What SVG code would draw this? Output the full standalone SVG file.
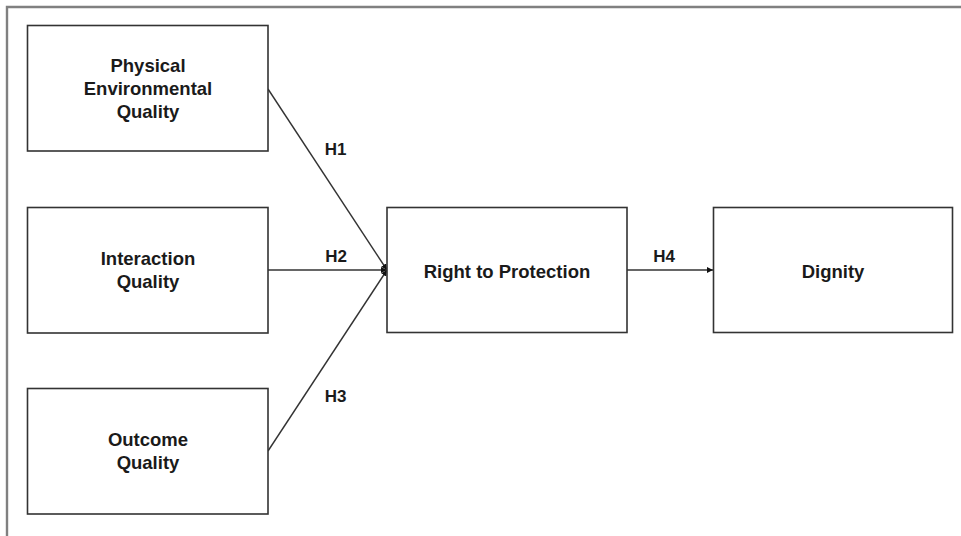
<svg xmlns="http://www.w3.org/2000/svg" width="961" height="536" viewBox="0 0 961 536">
<style>
.box{fill:#fff;stroke:#333;stroke-width:1.6}
.t{font-family:"Liberation Sans",Arial,sans-serif;font-weight:bold;font-size:18.5px;fill:#1a1a1a;text-anchor:middle}
.h{font-family:"Liberation Sans",Arial,sans-serif;font-weight:bold;font-size:17px;fill:#1a1a1a;text-anchor:middle}
.c{stroke:#333;stroke-width:1.4;fill:none}
</style>
<defs>
<marker id="arr" viewBox="0 0 10 10" refX="10" refY="5" markerWidth="6" markerHeight="6" markerUnits="userSpaceOnUse" orient="auto">
<path d="M0,0 L10,5 L0,10 z" fill="#111"/>
</marker>
</defs>
<rect width="961" height="536" fill="#fff"/>
<g id="frame">
<path d="M7,536 L7,7 L961,7" fill="none" stroke="#808080" stroke-width="2.4"/>
</g>
<g id="connectors">
<line class="c" x1="268" y1="89" x2="387" y2="270" marker-end="url(#arr)"/>
<line class="c" x1="268" y1="270" x2="387" y2="270" marker-end="url(#arr)"/>
<line class="c" x1="268" y1="451" x2="387" y2="270" marker-end="url(#arr)"/>
<line class="c" x1="627" y1="270" x2="713" y2="270" marker-end="url(#arr)"/>
<text class="h" x="335.5" y="155">H1</text>
<text class="h" x="336" y="262">H2</text>
<text class="h" x="335.5" y="402">H3</text>
<text class="h" x="664" y="262">H4</text>
</g>
<g id="physical">
<rect class="box" x="27.5" y="25.5" width="240.5" height="125.5"/>
<text class="t" x="148" y="72">Physical</text>
<text class="t" x="148" y="95">Environmental</text>
<text class="t" x="148" y="118">Quality</text>
</g>
<g id="interaction">
<rect class="box" x="27.5" y="207.5" width="240.5" height="125.5"/>
<text class="t" x="148" y="265">Interaction</text>
<text class="t" x="148" y="288">Quality</text>
</g>
<g id="outcome">
<rect class="box" x="27.5" y="388.5" width="240.5" height="125.5"/>
<text class="t" x="148" y="446">Outcome</text>
<text class="t" x="148" y="469">Quality</text>
</g>
<g id="protection">
<rect class="box" x="387" y="207.5" width="240" height="125"/>
<text class="t" x="507" y="278">Right to Protection</text>
</g>
<g id="dignity">
<rect class="box" x="713.5" y="207.5" width="239" height="125"/>
<text class="t" x="833" y="277.5">Dignity</text>
</g>
</svg>
